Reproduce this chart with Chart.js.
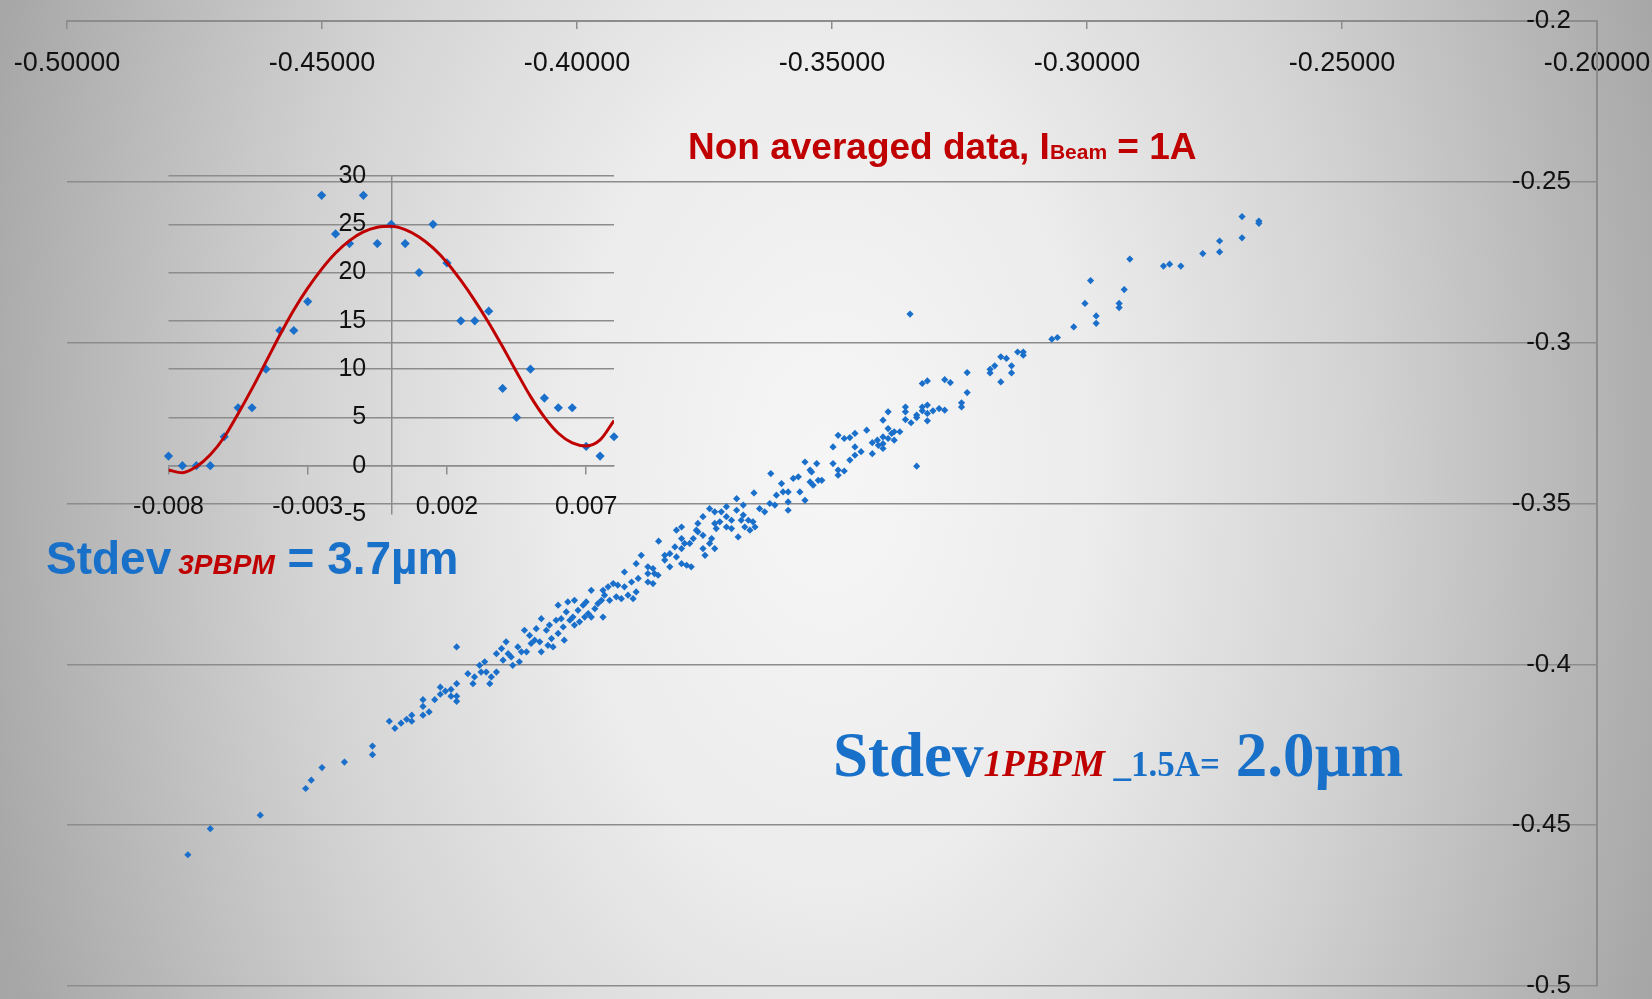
<!DOCTYPE html>
<html lang="en">
<head>
    <meta charset="UTF-8">
    <title>PBPM correlation</title>
    <script src="https://cdn.jsdelivr.net/npm/chart.js"></script>
    <style>
        html, body { margin: 0; padding: 0; }
        body {
            width: 1652px; height: 999px; overflow: hidden; position: relative;
            background: radial-gradient(ellipse 880px 1400px at 830px 470px,
                #f6f6f6 0%, #ececec 30%, #d3d3d3 60%, #a6a6a6 100%);
        }
        #mainChart { position: absolute; left: 0; top: 0; }
        #histChart { position: absolute; left: 100px; top: 135px; }
    </style>
</head>
<body>
    <canvas id="mainChart" width="1652" height="999"></canvas>
    <canvas id="histChart" width="560" height="420"></canvas>
    <script>
        // beam position, 1-PBPM (x) against 3-PBPM (y), non averaged samples
        const beamX = [
            -0.4763,-0.4719,-0.4621,-0.4532,-0.4521,-0.4500,-0.4456,-0.4401,-0.4401,-0.4368,
            -0.4357,-0.4345,-0.4334,-0.4324,-0.4324,-0.4302,-0.4302,-0.4302,-0.4290,-0.4279,
            -0.4268,-0.4268,-0.4258,-0.4247,-0.4247,-0.4236,-0.4236,-0.4236,-0.4236,
            -0.4214,-0.4204,-0.4201,-0.4191,-0.4181,-0.4188,-0.4178,-0.4168,-0.4171,-0.4158,
            -0.4158,-0.4148,-0.4145,-0.4139,-0.4135,-0.4126,-0.4129,-0.4116,-0.4113,-0.4109,
            -0.4103,-0.4099,-0.4093,-0.4090,-0.4083,-0.4080,-0.4073,-0.4070,-0.4070,-0.4060,
            -0.4057,-0.4054,-0.4050,-0.4047,-0.4041,-0.4037,-0.4037,-0.4031,-0.4027,-0.4025,
            -0.4021,-0.4018,-0.4014,-0.4008,-0.4005,-0.4005,-0.3998,-0.3995,-0.3988,-0.3985,
            -0.3982,-0.3978,-0.3972,-0.3972,-0.3965,-0.3959,-0.3952,-0.3949,-0.3949,-0.3946,
            -0.3939,-0.3936,-0.3929,-0.3923,-0.3920,-0.3913,-0.3907,-0.3907,-0.3900,-0.3893,
            -0.3890,-0.3884,-0.3884,-0.3880,-0.3874,-0.3861,-0.3861,-0.3861,
            -0.3851,-0.3848,-0.3841,-0.3851,-0.3840,-0.3828,-0.3828,-0.3818,-0.3818,-0.3808,
            -0.3805,-0.3805,-0.3795,-0.3795,-0.3795,-0.3795,-0.3785,-0.3789,-0.3779,-0.3776,
            -0.3772,-0.3766,-0.3763,-0.3763,-0.3753,-0.3753,-0.3753,-0.3749,-0.3740,-0.3740,
            -0.3736,-0.3730,-0.3730,-0.3730,-0.3727,-0.3720,-0.3717,-0.3707,-0.3707,-0.3707,
            -0.3697,-0.3697,-0.3687,-0.3687,-0.3684,-0.3678,-0.3674,-0.3674,-0.3671,-0.3664,
            -0.3661,-0.3655,-0.3651,-0.3653,-0.3642,-0.3632,-0.3622,-0.3620,-0.3612,-0.3609,
            -0.3599,-0.3596,-0.3586,-0.3586,-0.3586,-0.3576,-0.3566,-0.3563,-0.3553,-0.3553,
            -0.3543,-0.3543,-0.3540,-0.3537,-0.3530,-0.3527,-0.3520,-0.3498,-0.3498,-0.3488,-0.3488,-0.3488,
            -0.3476,-0.3476,-0.3465,-0.3465,-0.3455,-0.3455,-0.3455,-0.3443,-0.3432,-0.3421,
            -0.3421,-0.3411,-0.3409,-0.3400,-0.3400,-0.3400,-0.3400,-0.3390,-0.3390,-0.3390,
            -0.3383,-0.3378,-0.3378,-0.3367,-0.3356,-0.3356,-0.3356,-0.3345,-0.3334,-0.3334,
            -0.3334,-0.3323,-0.3323,-0.3323,-0.3313,-0.3313,-0.3313,-0.3313,-0.3302,-0.3290,
            -0.3279,-0.3279,-0.3268,-0.3246,-0.3246,-0.3235,-0.3235,-0.3190,-0.3190,-0.3181,
            -0.3169,-0.3169,-0.3158,-0.3148,-0.3148,-0.3136,-0.3125,-0.3125,-0.3347,
            -0.3069,-0.3058,-0.3026,-0.3004,-0.2993,-0.2982,-0.2982,-0.2937,-0.2937,-0.2927,
            -0.2916,-0.2850,-0.2838,-0.2816,-0.2773,-0.2740,-0.2740,-0.2696,-0.2696,-0.2663,-0.2663
        ];
        const beamY = [
            -0.4592,-0.4511,-0.4469,-0.4386,-0.4360,-0.4321,-0.4304,-0.4254,-0.4281,-0.4177,
            -0.4199,-0.4183,-0.4171,-0.4158,-0.4177,-0.4110,-0.4131,-0.4158,-0.4148,-0.4110,
            -0.4071,-0.4093,-0.4083,-0.4078,-0.4099,-0.4060,-0.4099,-0.4115,-0.3946,
            -0.4029,-0.4060,-0.4039,-0.4003,-0.3992,-0.4024,-0.4024,-0.4039,-0.4060,-0.4024,
            -0.3967,-0.3951,-0.3987,-0.3930,-0.3967,-0.4003,-0.3977,-0.3946,-0.3992,-0.3961,
            -0.3894,-0.3961,-0.3910,-0.3935,-0.3925,-0.3889,-0.3930,-0.3858,-0.3961,-0.3894,
            -0.3941,-0.3878,-0.3920,-0.3946,-0.3863,-0.3816,-0.3904,-0.3858,-0.3884,-0.3925,
            -0.3837,-0.3806,-0.3863,-0.3853,-0.3801,-0.3878,-0.3832,-0.3868,-0.3816,-0.3853,
            -0.3806,-0.3842,-0.3770,-0.3853,-0.3827,-0.3811,-0.3801,-0.3853,-0.3770,-0.3785,
            -0.3759,-0.3801,-0.3749,-0.3790,-0.3754,-0.3796,-0.3713,-0.3759,-0.3785,-0.3744,
            -0.3796,-0.3687,-0.3775,-0.3733,-0.3661,-0.3697,-0.3718,-0.3744,
            -0.3702,-0.3718,-0.3723,-0.3749,-0.3617,-0.3661,-0.3676,-0.3656,-0.3697,-0.3635,
            -0.3666,-0.3583,-0.3573,-0.3609,-0.3640,-0.3687,-0.3692,-0.3624,-0.3624,-0.3697,
            -0.3609,-0.3583,-0.3562,-0.3588,-0.3541,-0.3599,-0.3640,-0.3661,-0.3516,-0.3624,
            -0.3609,-0.3526,-0.3562,-0.3640,-0.3578,-0.3557,-0.3526,-0.3510,-0.3541,-0.3573,
            -0.3552,-0.3578,-0.3485,-0.3521,-0.3604,-0.3552,-0.3505,-0.3536,-0.3573,-0.3552,
            -0.3583,-0.3557,-0.3573,-0.3467,-0.3516,-0.3526,-0.3500,-0.3407,-0.3505,-0.3474,
            -0.3438,-0.3464,-0.3464,-0.3495,-0.3521,-0.3422,-0.3417,-0.3464,-0.3371,-0.3490,
            -0.3396,-0.3433,-0.3402,-0.3443,-0.3376,-0.3428,-0.3428,-0.3324,-0.3376,-0.3288,-0.3396,-0.3412,
            -0.3298,-0.3399,-0.3295,-0.3365,-0.3282,-0.3324,-0.3350,-0.3339,-0.3272,-0.3311,
            -0.3345,-0.3303,-0.3319,-0.3241,-0.3293,-0.3314,-0.3329,-0.3215,-0.3267,-0.3298,
            -0.3282,-0.3303,-0.3277,-0.3277,-0.3200,-0.3215,-0.3239,-0.3249,-0.3225,-0.3233,
            -0.3384,-0.3127,-0.3200,-0.3212,-0.3119,-0.3194,-0.3220,-0.3243,-0.3212,-0.3205,
            -0.3115,-0.3210,-0.3124,-0.3187,-0.3200,-0.3093,-0.3155,-0.3083,-0.3094,-0.3072,
            -0.3044,-0.3122,-0.3049,-0.3072,-0.3094,-0.3029,-0.3029,-0.3039,-0.2911,
            -0.2989,-0.2984,-0.2951,-0.2878,-0.2807,-0.2917,-0.2940,-0.2878,-0.2891,-0.2835,
            -0.2740,-0.2762,-0.2756,-0.2762,-0.2723,-0.2684,-0.2718,-0.2608,-0.2674,-0.2622,-0.2629
        ];

        // histogram of the 3-PBPM residuals and its polynomial fit
        const binCentres = [
            -0.008,-0.0075,-0.007,-0.0065,-0.006,-0.0055,-0.005,-0.0045,-0.004,-0.0035,-0.003,
            -0.0025,-0.002,-0.0015,-0.001,-0.0005,0,0.0005,0.001,0.0015,0.002,0.0025,
            0.003,0.0035,0.004,0.0045,0.005,0.0055,0.006,0.0065,0.007,0.0075,0.008
        ];
        const binCounts = [1,0,0,0,3,6,6,10,14,14,17,28,24,23,28,23,25,23,20,25,21,15,15,16,8,5,10,7,6,6,2,1,3];
        const fitCounts = [
            -0.45,-0.73,-0.10,1.14,2.95,5.38,7.98,10.75,13.53,16.13,18.38,
            20.36,22.03,23.31,24.21,24.70,24.80,24.45,23.69,22.55,21.05,19.18,
            17.10,14.81,12.31,9.71,7.18,5.03,3.36,2.36,2.05,2.67,4.68
        ];

        const mainXTicks = [-0.5, -0.45, -0.4, -0.35, -0.3, -0.25, -0.2];
        const mainYTicks = [-0.5, -0.45, -0.4, -0.35, -0.3, -0.25, -0.2];
        const histXTicks = [-0.008, -0.003, 0.002, 0.007];
        const histYTicks = [-5, 0, 5, 10, 15, 20, 25, 30];

        const BLUE = '#1a6fca';
        const TEXT_BLUE = '#1870c8';
        const RED = '#c00000';
        const GRID = '#8c8c8c';
        const SANS = '"Liberation Sans", Arial, sans-serif';
        const SERIF = '"Liberation Serif", "Times New Roman", serif';

        function toPoints(xs, ys) {
            return xs.map((x, i) => ({ x: x, y: ys[i] }));
        }

        function fixedTicks(list) {
            return axis => { axis.ticks = list.map(v => ({ value: v })); };
        }

        // draws a row of differently styled text pieces one after another
        function drawRuns(ctx, x, y, runs) {
            ctx.save();
            ctx.textAlign = 'left';
            ctx.textBaseline = 'alphabetic';
            for (const r of runs) {
                ctx.font = r.font;
                ctx.fillStyle = r.color;
                x += r.gap || 0;
                ctx.fillText(r.text, x, y);
                x += ctx.measureText(r.text).width;
            }
            ctx.restore();
        }

        const annotations = {
            id: 'annotations',
            afterDraw(chart) {
                const ctx = chart.ctx;
                drawRuns(ctx, 688, 159, [
                    { text: 'Non averaged data, I', font: 'bold 37px ' + SANS, color: RED },
                    { text: 'Beam', font: 'bold 21px ' + SANS, color: RED },
                    { text: ' = 1A', font: 'bold 37px ' + SANS, color: RED }
                ]);
                drawRuns(ctx, 46, 574, [
                    { text: 'Stdev', font: 'bold 46px ' + SANS, color: TEXT_BLUE },
                    { text: '3PBPM', font: 'italic bold 28px ' + SANS, color: RED, gap: 7 },
                    { text: ' = 3.7\u00b5m', font: 'bold 46px ' + SANS, color: TEXT_BLUE }
                ]);
                drawRuns(ctx, 833, 776, [
                    { text: 'Stdev', font: 'bold 63px ' + SERIF, color: TEXT_BLUE },
                    { text: '1PBPM', font: 'italic bold 37px ' + SERIF, color: RED },
                    { text: ' _1.5A=', font: 'bold 35px ' + SERIF, color: TEXT_BLUE },
                    { text: ' 2.0\u00b5m', font: 'bold 63px ' + SERIF, color: TEXT_BLUE }
                ]);
            }
        };

        new Chart(document.getElementById('mainChart'), {
            type: 'scatter',
            data: {
                datasets: [{
                    data: toPoints(beamX, beamY),
                    pointStyle: 'rectRot',
                    pointRadius: 3.6,
                    backgroundColor: BLUE,
                    borderColor: BLUE,
                    borderWidth: 0
                }]
            },
            options: {
                responsive: false,
                animation: false,
                devicePixelRatio: 1,
                layout: { padding: { left: 67, right: 55, top: 21, bottom: 13 } },
                plugins: { legend: { display: false }, tooltip: { enabled: false } },
                scales: {
                    x: {
                        type: 'linear',
                        position: { y: -0.2 },
                        min: -0.5,
                        max: -0.2,
                        afterBuildTicks: fixedTicks(mainXTicks),
                        grid: { drawOnChartArea: false, drawTicks: true, tickLength: 7, color: GRID, lineWidth: 1.5 },
                        border: { color: GRID, width: 2 },
                        ticks: {
                            autoSkip: false, maxRotation: 0, padding: 0,
                            color: '#111', font: { family: SANS, size: 27, lineHeight: 2.6 },
                            callback: v => v.toFixed(5)
                        }
                    },
                    y: {
                        type: 'linear',
                        position: 'right',
                        min: -0.5,
                        max: -0.2,
                        afterBuildTicks: fixedTicks(mainYTicks),
                        grid: { drawTicks: false, color: GRID, lineWidth: 1.5 },
                        border: { color: GRID, width: 2 },
                        ticks: {
                            // labels sit inside the plot, just left of the axis line
                            mirror: true, padding: -26,
                            color: '#111', font: { family: SANS, size: 26 },
                            callback: v => String(parseFloat(v.toFixed(2)))
                        }
                    }
                }
            },
            plugins: [annotations]
        });

        new Chart(document.getElementById('histChart'), {
            type: 'scatter',
            data: {
                datasets: [{
                    data: toPoints(binCentres, fitCounts),
                    showLine: true,
                    cubicInterpolationMode: 'monotone',
                    pointRadius: 0,
                    borderColor: RED,
                    borderWidth: 3
                }, {
                    data: toPoints(binCentres, binCounts),
                    pointStyle: 'rectRot',
                    pointRadius: 4.6,
                    backgroundColor: BLUE,
                    borderWidth: 0,
                    clip: false
                }]
            },
            options: {
                responsive: false,
                animation: false,
                devicePixelRatio: 1,
                layout: { padding: { left: 68.5, right: 46, top: 41, bottom: 41 } },
                plugins: { legend: { display: false }, tooltip: { enabled: false } },
                scales: {
                    x: {
                        type: 'linear',
                        position: { y: 0 },
                        min: -0.008,
                        max: 0.008,
                        afterBuildTicks: fixedTicks(histXTicks),
                        grid: { drawOnChartArea: false, tickLength: 8, color: GRID, lineWidth: 1.5 },
                        border: { color: GRID, width: 1.5 },
                        ticks: {
                            autoSkip: false, maxRotation: 0, padding: 18,
                            color: '#111', font: { family: SANS, size: 25 },
                            callback: v => String(v)
                        }
                    },
                    y: {
                        type: 'linear',
                        position: 'center',
                        min: -5,
                        max: 30,
                        afterBuildTicks: fixedTicks(histYTicks),
                        grid: {
                            drawTicks: false, lineWidth: 1.5,
                            color: c => (c.tick && c.tick.value === -5) ? 'rgba(0,0,0,0)' : GRID
                        },
                        border: { color: GRID, width: 1.5 },
                        ticks: {
                            padding: 25,
                            color: '#111', font: { family: SANS, size: 25 },
                            callback: v => String(v)
                        }
                    }
                }
            }
        });
    </script>
</body>
</html>
